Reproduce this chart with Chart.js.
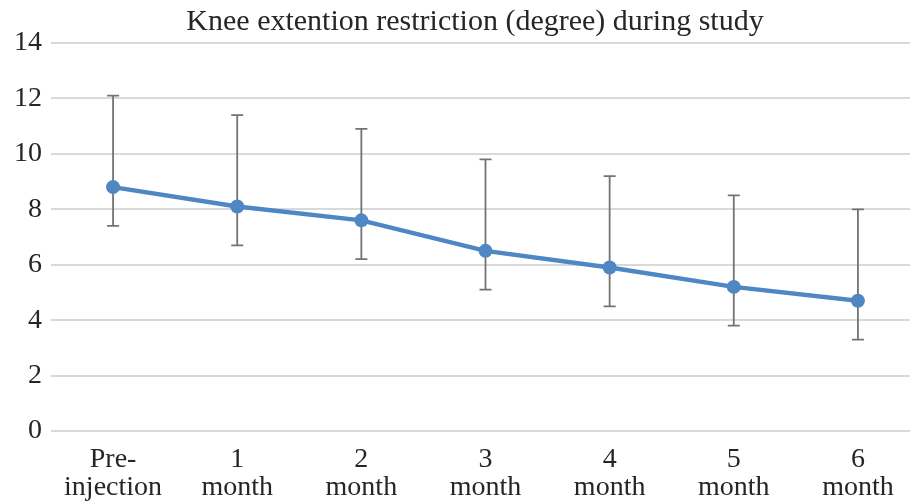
<!DOCTYPE html>
<html>
<head>
<meta charset="utf-8">
<script src="https://cdn.jsdelivr.net/npm/chart.js@4.4.1/dist/chart.umd.min.js"></script>
<style>
  html, body { margin: 0; padding: 0; background: #fff; overflow: hidden; }
  #wrap { width: 927px; height: 502px; }
</style>
</head>
<body>
<div id="wrap"><canvas id="kneeChart" width="927" height="502"></canvas></div>
<script>
// data
const categories = [["Pre-", "injection"], ["1", "month"], ["2", "month"], ["3", "month"], ["4", "month"], ["5", "month"], ["6", "month"]];
const meanValues = [8.8, 8.1, 7.6, 6.5, 5.9, 5.2, 4.7];
const upperValues = [12.1, 11.4, 10.9, 9.8, 9.2, 8.5, 8.0];
const lowerValues = [7.4, 6.7, 6.2, 5.1, 4.5, 3.8, 3.3];
const yTicks = [0, 2, 4, 6, 8, 10, 12, 14];

const serif = "'Liberation Serif', 'Times New Roman', serif";
const textColor = "#262626";

// error bars drawn under the line, positioned through the chart's own scales
const errorBars = {
  id: "errorBars",
  beforeDatasetsDraw(chart) {
    const ctx = chart.ctx;
    const y = chart.scales.y;
    const meta = chart.getDatasetMeta(0);
    ctx.save();
    ctx.strokeStyle = "#737373";
    ctx.lineWidth = 1.8;
    meta.data.forEach((pt, i) => {
      const top = y.getPixelForValue(upperValues[i]);
      const bot = y.getPixelForValue(lowerValues[i]);
      ctx.beginPath();
      ctx.moveTo(pt.x, top);
      ctx.lineTo(pt.x, bot);
      ctx.moveTo(pt.x - 6, top);
      ctx.lineTo(pt.x + 6, top);
      ctx.moveTo(pt.x - 6, bot);
      ctx.lineTo(pt.x + 6, bot);
      ctx.stroke();
    });
    ctx.restore();
  }
};

// the original title sits a bit right of the canvas centre
const titleShift = {
  id: "titleShift",
  afterLayout(chart) {
    if (chart.titleBlock) chart.titleBlock.left += 24;
  }
};

new Chart(document.getElementById("kneeChart"), {
  type: "line",
  data: {
    labels: categories,
    datasets: [{
      data: meanValues,
      borderColor: "#4F86C4",
      backgroundColor: "#4F86C4",
      borderWidth: 4.5,
      pointRadius: 7,
      pointHoverRadius: 7,
      pointBorderWidth: 0,
      tension: 0
    }]
  },
  options: {
    responsive: false,
    animation: false,
    devicePixelRatio: 1,
    layout: { padding: { left: 0, right: 1, top: 0, bottom: 0 } },
    plugins: {
      legend: { display: false },
      tooltip: { enabled: false },
      title: {
        display: true,
        text: "Knee extention restriction (degree) during study",
        color: textColor,
        font: { family: serif, size: 30, weight: "normal", lineHeight: 1.2 },
        padding: { top: 4, bottom: 3 }
      }
    },
    scales: {
      x: {
        offset: true,
        grid: { display: false, drawTicks: false },
        border: { display: false },
        ticks: {
          color: textColor,
          font: { family: serif, size: 28, lineHeight: 1.0 },
          maxRotation: 0,
          autoSkip: false,
          padding: 15
        },
        afterFit(scale) { scale.height = 71; }
      },
      y: {
        min: 0,
        max: 14,
        afterBuildTicks(scale) { scale.ticks = yTicks.map(v => ({ value: v })); },
        grid: { color: "#d9d9d9", lineWidth: 2, drawTicks: false },
        border: { display: false },
        ticks: {
          color: textColor,
          font: { family: serif, size: 28 },
          padding: 9
        },
        afterFit(scale) { scale.width = 51; }
      }
    }
  },
  plugins: [errorBars, titleShift]
});
</script>
</body>
</html>
